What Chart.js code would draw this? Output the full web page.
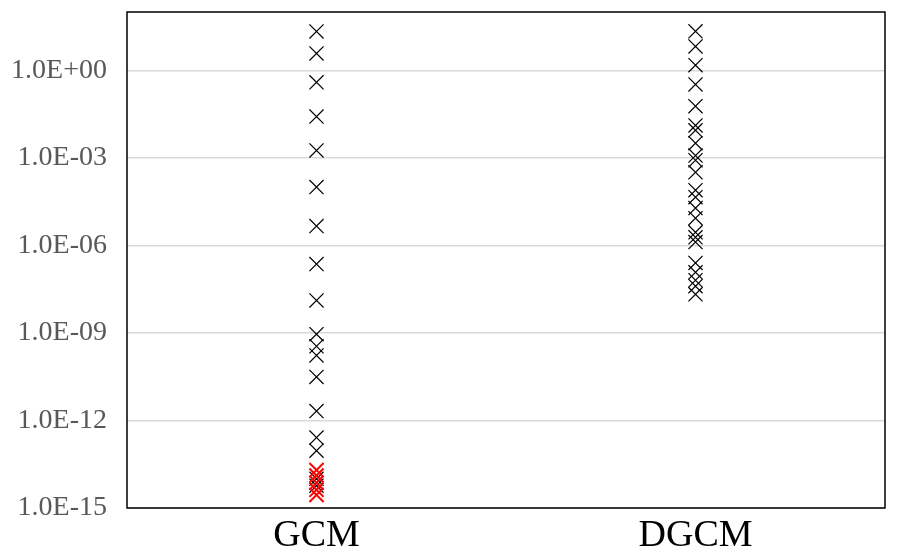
<!DOCTYPE html>
<html>
<head>
<meta charset="utf-8">
<script src="https://cdn.jsdelivr.net/npm/chart.js@4/dist/chart.umd.min.js"></script>
<style>
  body { margin: 0; background: #fff; }
  #wrap { width: 899px; height: 550px; }
</style>
</head>
<body>
<div id="wrap"><canvas id="myChart"></canvas></div>
<script>
      // categories on the x axis
      const categories = ["GCM", "DGCM"];

      // GCM values (black crosses)
      const gcmValues = [21.6, 3.8, 0.39, 0.026, 1.8e-3, 1.0e-4, 4.6e-6, 2.3e-7, 1.3e-8,
        9.1e-10, 3.5e-10, 1.7e-10, 3.1e-11, 2.1e-12, 2.6e-13, 9.2e-14, 1.0e-14, 5.8e-15];

      // GCM values drawn in red (lowest cluster)
      const gcmRedValues = [2.0e-14, 1.3e-14, 7.3e-15, 4.2e-15, 2.8e-15];

      // DGCM values
      const dgcmValues = [21.7, 6.6, 1.5, 0.33, 0.059, 0.013, 8.8e-3, 3.2e-3, 1.2e-3, 8.3e-4,
        3.2e-4, 7.8e-5, 4.5e-5, 1.9e-5, 8.6e-6, 2.8e-6, 1.9e-6, 1.3e-6, 2.5e-7, 1.2e-7,
        6.4e-8, 4.0e-8, 2.1e-8];

      // y tick labels (every 3 decades)
      const yTicks = [1e-15, 1e-12, 1e-9, 1e-6, 1e-3, 1e0];
      const yTickLabels = ["1.0E-15", "1.0E-12", "1.0E-09", "1.0E-06", "1.0E-03", "1.0E+00"];

      function toPoints(cat, vals) {
        return vals.map(v => ({ x: cat, y: v }));
      }

      // black frame round the plot area
      const frame = {
        id: "frame",
        afterDatasetsDraw(chart) {
          const a = chart.chartArea;
          const ctx = chart.ctx;
          ctx.save();
          ctx.strokeStyle = "#000";
          ctx.lineWidth = 1.5;
          ctx.strokeRect(a.left, a.top, a.right - a.left, a.bottom - a.top);
          ctx.restore();
        }
      };

      const ctx = document.getElementById("myChart").getContext("2d");

      const crossStyle = {
        showLine: false,
        pointStyle: "crossRot",
        pointRadius: 10,
        pointHoverRadius: 10,
        pointBorderWidth: 1.2
      };

      // dataset 0 is drawn on top, so the red crosses come first
      const myChart = new Chart(ctx, {
        type: "scatter",
        data: {
          labels: categories,
          datasets: [
            Object.assign({}, crossStyle, {
              label: "GCM red",
              data: toPoints("GCM", gcmRedValues),
              borderColor: "#ff0000",
              backgroundColor: "#ff0000",
              pointBorderWidth: 2
            }),
            Object.assign({
              label: "GCM",
              data: toPoints("GCM", gcmValues),
              borderColor: "#000",
              backgroundColor: "#000"
            }, crossStyle),
            Object.assign({
              label: "DGCM",
              data: toPoints("DGCM", dgcmValues),
              borderColor: "#000",
              backgroundColor: "#000"
            }, crossStyle)
          ]
        },
        options: {
          responsive: true,
          maintainAspectRatio: false,
          animation: false,
          layout: { padding: { top: 12, right: 14, left: 0, bottom: 0 } },
          plugins: {
            legend: { display: false },
            tooltip: { enabled: false }
          },
          scales: {
            x: {
              type: "category",
              labels: categories,
              offset: true,
              grid: { display: false, drawTicks: false },
              border: { display: false },
              ticks: {
                color: "#000",
                padding: 5,
                font: { family: "'Liberation Serif', 'Times New Roman', serif", size: 38 }
              },
              afterFit(scale) {
                scale.height = 42;
                scale.paddingLeft = 0;
                scale.paddingRight = 0;
              }
            },
            y: {
              type: "logarithmic",
              min: 1e-15,
              max: 100,
              afterBuildTicks(scale) {
                scale.ticks = yTicks.map(v => ({ value: v }));
              },
              grid: {
                color: "#d9d9d9",
                lineWidth: 1.5,
                drawTicks: false
              },
              border: { display: false },
              ticks: {
                color: "#595959",
                padding: 20,
                font: { family: "'Liberation Serif', 'Times New Roman', serif", size: 28 },
                callback(value) {
                  const i = yTicks.findIndex(t => Math.abs(Math.log10(t) - Math.log10(value)) < 1e-6);
                  return i >= 0 ? yTickLabels[i] : "";
                }
              },
              afterFit(scale) {
                scale.width = 127;
                scale.paddingTop = 0;
                scale.paddingBottom = 0;
              }
            }
          }
        },
        plugins: [frame]
      });
</script>
</body>
</html>
